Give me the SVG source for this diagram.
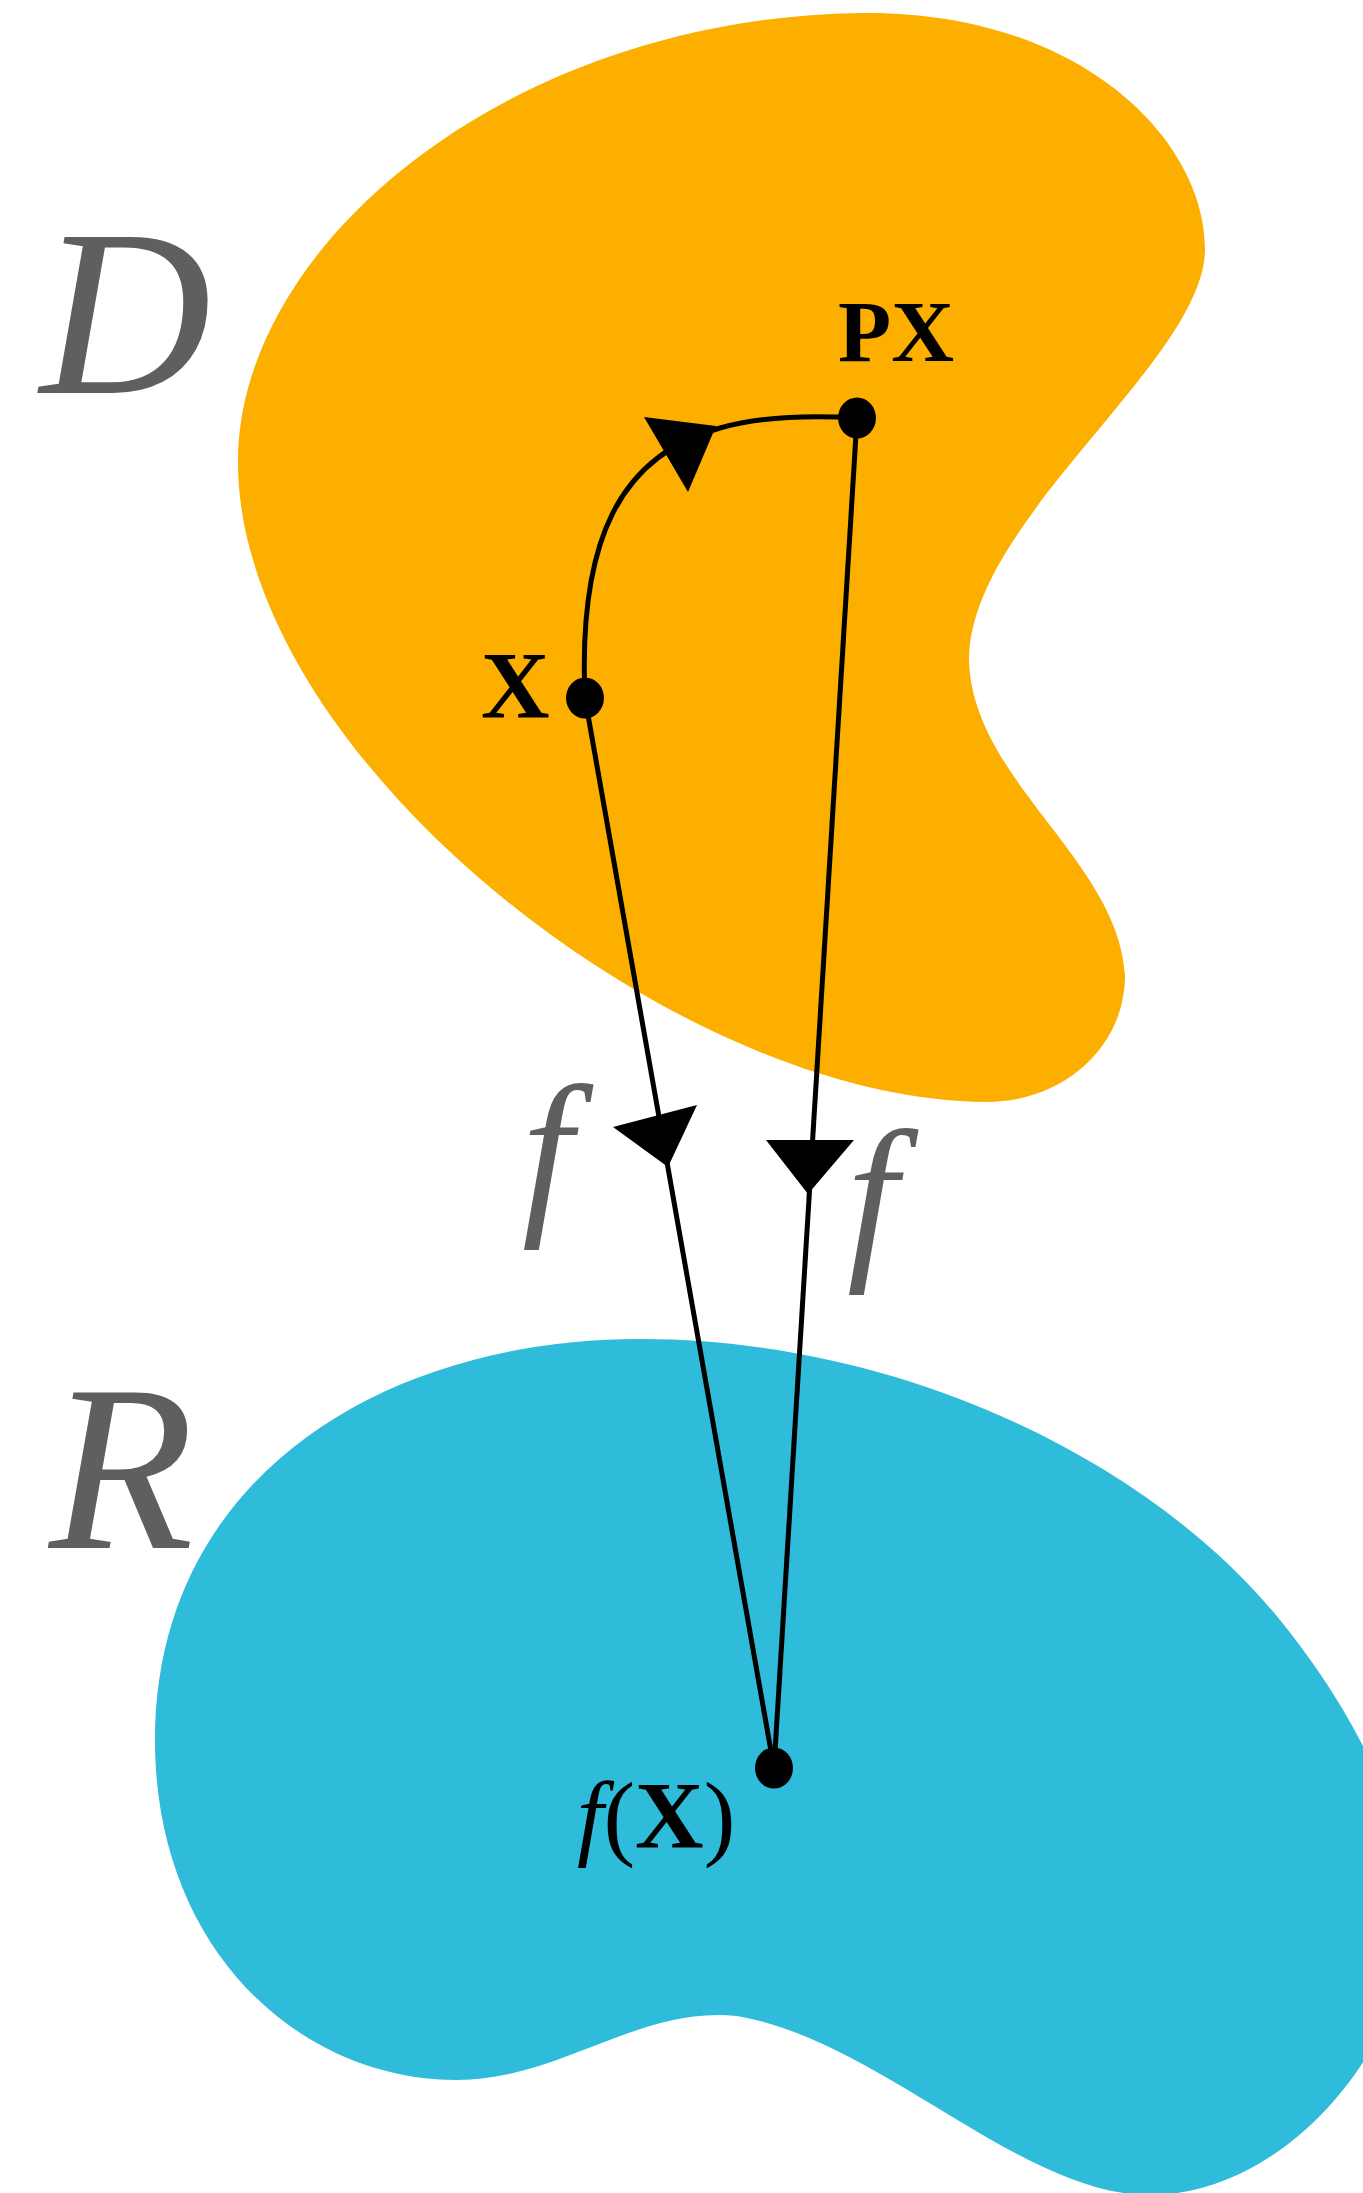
<svg xmlns="http://www.w3.org/2000/svg" width="1363" height="2193" viewBox="0 0 1363 2193">
<style>
.blob-d{fill:#fdaf00}
.blob-r{fill:#2fbbda}
.edge{fill:none;stroke:#000;stroke-width:5}
.head{fill:#000;stroke:none}
.dot{fill:#000}
.big{font-family:"Liberation Serif",serif;font-style:italic;fill:#5f5f5f}
.lbl{font-family:"Liberation Serif",serif;font-weight:bold;fill:#000}
.math{font-family:"Liberation Serif",serif;fill:#000}
</style>
<rect width="1363" height="2193" fill="#fff"/>
<g id="region-D">
<path class="blob-d" d="M 860 13 C 1080 10, 1205 140, 1205 249 C 1205 360, 969 520, 969 660 C 972 780, 1118 860, 1125 975 C 1125 1050, 1060 1102, 987 1102 C 680 1102, 240 760, 238 464 C 236 245, 510 18, 860 13 Z"/>
<text class="big" x="40" y="393" font-size="237">D</text>
</g>
<g id="region-R">
<path class="blob-r" d="M 640 1339 C 900 1339, 1150 1460, 1280 1620 C 1332 1684, 1410 1800, 1410 1920 C 1410 2040, 1290 2195, 1150 2195 C 1020 2195, 880 2040, 737 2016 C 640 2005, 560 2080, 457 2080 C 300 2080, 155 1950, 155 1740 C 155 1480, 380 1339, 640 1339 Z"/>
<text class="big" x="49" y="1548" font-size="237">R</text>
</g>
<g id="connectors">
<path class="edge" d="M 585 698 C 578 540, 620 455, 720 428 C 760 417, 810 415, 857 418"/>
<polygon class="head" points="644,417 716,426 688,492"/>
<line class="edge" x1="585" y1="698" x2="774" y2="1768"/>
<polygon class="head" points="697,1105 613,1127 668,1167"/>
<line class="edge" x1="857" y1="418" x2="774" y2="1768"/>
<polygon class="head" points="766,1140 854,1140 808,1194"/>
<text class="big" x="522" y="1211" font-size="182">f</text>
<text class="big" x="847" y="1256" font-size="182">f</text>
</g>
<g id="node-X">
<ellipse class="dot" cx="585" cy="698" rx="19" ry="20.5"/>
<text class="lbl" x="481" y="718" font-size="95">X</text>
</g>
<g id="node-PX">
<ellipse class="dot" cx="857" cy="418" rx="19" ry="20.5"/>
<text class="lbl" x="838" y="361" font-size="87">PX</text>
</g>
<g id="node-fX">
<ellipse class="dot" cx="774" cy="1768" rx="19" ry="20.5"/>
<text class="math" x="577" y="1848" font-size="95"><tspan font-style="italic">f</tspan>(<tspan font-weight="bold">X</tspan>)</text>
</g>
</svg>
